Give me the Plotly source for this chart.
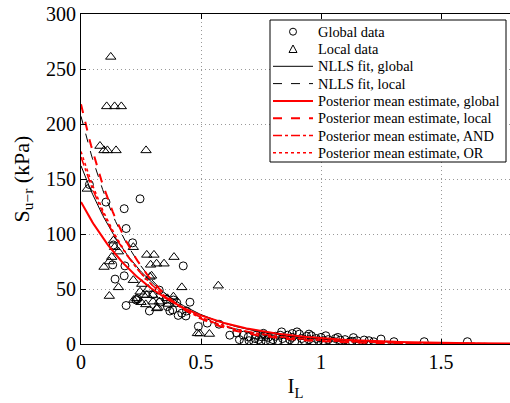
import numpy as np
import plotly.graph_objects as go

# Global data (circles)
global_x = [0.035,0.104,0.246,0.18,0.188,0.215,0.135,0.132,0.183,0.426,0.18,0.142,0.188,0.23,0.236,0.285,
            0.37,0.382,0.405,0.437,0.454,0.385,0.399,0.354,0.326,0.30,0.33,0.36,0.42,0.44,
            0.489,0.526,0.575,0.62,0.649,0.676,0.697,0.725,0.753,0.767,
            0.70,0.72,0.74,0.76,0.77,0.78,0.79,0.80,0.81,0.82,0.836,0.84,0.85,0.86,0.87,0.88,0.89,0.90,0.91,
            0.92,0.93,0.94,0.95,0.96,0.97,0.98,0.99,1.00,1.02,1.03,1.05,1.06,1.08,1.10,1.12,1.135,1.15,1.18,
            1.20,1.22,1.25,1.304,1.43,1.61,0.66,0.68,0.73,0.75,0.83,0.95,0.88,1.01,1.07,1.13]
global_y = [145,129,132,123,105,92,90,72,71,71,62,59,35,40,41,30,
            30,31,26,25.5,38,40,37.5,40.5,49,45,38,34,28,30,
            16,19,18,8,10,8,6.5,5,6.5,8,
            3,2,4,9.7,3,6,2,4,7,3,11,5,2.5,8,4,6,2,11,9,
            5,3,7,4,7.5,2,5,3,6,7.5,4,2.5,5,3.5,4,2,5.8,3,3.6,
            3,2,4.5,2.1,2.1,2.1,4,2,8,2,8,9,9.5,3,6,2.5]

# Local data (triangles)
local_x = [0.124,0.107,0.14,0.168,0.079,0.096,0.11,0.146,0.271,0.026,
           0.135,0.14,0.218,0.156,0.128,0.274,0.304,0.3875,0.118,0.096,0.29,0.315,0.346,0.218,0.294,
           0.156,0.42,0.572,0.118,0.246,0.28,0.274,0.299,0.22,0.25,0.27,0.326,0.36,0.385,0.315,0.364,
           0.485,0.495,0.535,0.232,0.26,0.30,0.32,0.253,0.2875]
local_y = [261,216,216,216,180,176,176,176,176,141,
           94,88,88,84,79,81,81,79,75,70,72,73,73,58,62,
           51.5,51.5,53,43.6,47.5,50,44.5,44.5,40,38,36,38.5,41.5,43,32.4,36.4,
           9.7,9.5,9.1,41.5,44.5,38.5,33,54.5,61]

# Fitted curves: S = a * exp(-b * IL)
nlls_global = (162, 3.6)
nlls_local = (207, 4.3)
post_global = (129, 3.2)
post_local = (218, 4.5)
post_and = (170, 3.9)
post_or = (175, 4.0)

legend_names = ["Global data", "Local data", "NLLS fit, global", "NLLS fit, local",
                "Posterior mean estimate, global", "Posterior mean estimate, local",
                "Posterior mean estimate, AND", "Posterior mean estimate, OR"]

x_ticks = [0, 0.5, 1, 1.5]
y_ticks = [0, 50, 100, 150, 200, 250, 300]

xs = np.linspace(0, 1.8, 300)
def curve(p):
    return p[0] * np.exp(-p[1] * xs)

FONT = "Liberation Serif, Times New Roman, DejaVu Serif, serif"
W, H = 510, 403
ML, MR, MT, MB = 81, 0, 14, 59
PW, PH = W - ML - MR, H - MT - MB

def px(x):
    return (x - ML) / PW

def py(y):
    return (H - MB - y) / PH

styles = [
    dict(kind="marker", symbol="circle"),
    dict(kind="marker", symbol="triangle"),
    dict(kind="line", color="black", width=1, dash="solid"),
    dict(kind="line", color="black", width=1, dash="dash"),
    dict(kind="line", color="red", width=2, dash="solid"),
    dict(kind="line", color="red", width=2, dash="dash"),
    dict(kind="line", color="red", width=1.5, dash="dashdot"),
    dict(kind="line", color="red", width=1.5, dash="dot"),
]

fig = go.Figure()
fig.add_trace(go.Scatter(x=global_x, y=global_y, mode="markers", name=legend_names[0],
                         marker=dict(symbol="circle-open", size=8, color="black", line=dict(width=1))))
fig.add_trace(go.Scatter(x=local_x, y=local_y, mode="markers", name=legend_names[1],
                         marker=dict(symbol="triangle-up-open", size=9, color="black", line=dict(width=1))))
for p, name, st in zip([nlls_global, nlls_local, post_global, post_local, post_and, post_or],
                       legend_names[2:], styles[2:]):
    fig.add_trace(go.Scatter(x=xs, y=curve(p), mode="lines", name=name,
                             line=dict(color=st["color"], width=st["width"], dash=st["dash"])))

# Legend box (MATLAB style)
shapes = [dict(type="rect", xref="paper", yref="paper", x0=px(270), x1=px(506), y0=py(162), y1=py(20),
               fillcolor="white", line=dict(color="black", width=1), layer="above")]
annotations = []
for i, (name, st) in enumerate(zip(legend_names, styles)):
    yc = 31.7 + 17.3 * i
    if st["kind"] == "line":
        shapes.append(dict(type="line", xref="paper", yref="paper", x0=px(273), x1=px(313),
                           y0=py(yc), y1=py(yc), layer="above",
                           line=dict(color=st["color"], width=st["width"], dash=st["dash"])))
    elif st["symbol"] == "circle":
        shapes.append(dict(type="circle", xref="paper", yref="paper", xsizemode="pixel",
                           ysizemode="pixel", xanchor=px(293), yanchor=py(yc),
                           x0=-3.5, x1=3.5, y0=-3.5, y1=3.5, layer="above",
                           line=dict(color="black", width=1)))
    else:
        shapes.append(dict(type="path", xref="paper", yref="paper", xsizemode="pixel",
                           ysizemode="pixel", xanchor=px(293), yanchor=py(yc),
                           path="M -4,-3.5 L 4,-3.5 L 0,4 Z", layer="above",
                           line=dict(color="black", width=1)))
    annotations.append(dict(text=name, xref="paper", yref="paper", x=px(315.5), y=py(yc),
                            xanchor="left", yanchor="middle", showarrow=False,
                            font=dict(family=FONT, size=14.4, color="black")))

fig.update_layout(
    width=W, height=H,
    margin=dict(l=ML, r=MR, t=MT, b=MB),
    plot_bgcolor="white", paper_bgcolor="white",
    font=dict(family=FONT, color="black", size=20),
    showlegend=False,
    shapes=shapes, annotations=annotations,
)
grid = dict(showgrid=True, gridcolor="#999", griddash="1px,3px", gridwidth=1, zeroline=False)
fig.update_xaxes(range=[0, 1.7875], tickvals=x_ticks, ticktext=["0", "0.5", "1", "1.5"],
                 ticks="inside", ticklen=5, tickcolor="black", showline=True, linecolor="black",
                 linewidth=1, mirror="ticks", tickfont=dict(family=FONT, size=20),
                 title=dict(text="I<sub>L</sub>", standoff=6, font=dict(family=FONT, size=21)), **grid)
fig.update_yaxes(range=[0, 300], tickvals=y_ticks, ticks="inside", ticklen=5, tickcolor="black",
                 showline=True, linecolor="black", linewidth=1, mirror=False,
                 tickfont=dict(family=FONT, size=20),
                 title=dict(text="S<sub>u\u2212r</sub> (kPa)", standoff=10, font=dict(family=FONT, size=22)),
                 **grid)

fig.write_html("out.html")
